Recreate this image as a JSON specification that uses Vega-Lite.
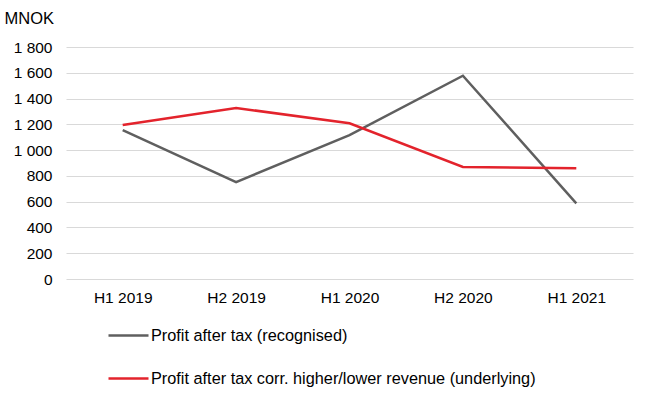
{
  "$schema": "https://vega.github.io/schema/vega-lite/v6.json",
  "width": 567,
  "height": 232,
  "autosize": "none",
  "padding": {"left": 66, "top": 47, "right": 16, "bottom": 120},
  "background": "white",
  "config": {
    "font": "Liberation Sans",
    "view": {"stroke": null}
  },
  "data": {
    "values": [
      {"period": "H1 2019", "series": "Profit after tax (recognised)", "value": 1155},
      {"period": "H2 2019", "series": "Profit after tax (recognised)", "value": 752},
      {"period": "H1 2020", "series": "Profit after tax (recognised)", "value": 1117},
      {"period": "H2 2020", "series": "Profit after tax (recognised)", "value": 1577},
      {"period": "H1 2021", "series": "Profit after tax (recognised)", "value": 587},
      {"period": "H1 2019", "series": "Profit after tax corr. higher/lower revenue (underlying)", "value": 1195},
      {"period": "H2 2019", "series": "Profit after tax corr. higher/lower revenue (underlying)", "value": 1327},
      {"period": "H1 2020", "series": "Profit after tax corr. higher/lower revenue (underlying)", "value": 1208},
      {"period": "H2 2020", "series": "Profit after tax corr. higher/lower revenue (underlying)", "value": 869},
      {"period": "H1 2021", "series": "Profit after tax corr. higher/lower revenue (underlying)", "value": 860}
    ]
  },
  "mark": {"type": "line", "strokeWidth": 2.5},
  "encoding": {
    "x": {
      "field": "period",
      "type": "ordinal",
      "sort": null,
      "scale": {"type": "point", "padding": 0.5},
      "axis": {
        "title": null,
        "labelAngle": 0,
        "domain": false,
        "ticks": false,
        "grid": false,
        "labelFontSize": 15.5,
        "labelColor": "#000000",
        "labelPadding": 11
      }
    },
    "y": {
      "field": "value",
      "type": "quantitative",
      "scale": {"domain": [0, 1800], "nice": false},
      "axis": {
        "values": [0, 200, 400, 600, 800, 1000, 1200, 1400, 1600, 1800],
        "labelExpr": "replace(format(datum.value, ','), ',', ' ')",
        "domain": false,
        "ticks": false,
        "gridColor": "#d9d9d9",
        "gridWidth": 1,
        "labelFontSize": 15.5,
        "labelColor": "#000000",
        "labelPadding": 14,
        "title": "MNOK",
        "titleAngle": 0,
        "titleFontSize": 16.5,
        "titleFontWeight": "normal",
        "titleColor": "#000000",
        "titleAlign": "left",
        "titleBaseline": "middle",
        "titleX": -62,
        "titleY": -29
      }
    },
    "color": {
      "field": "series",
      "type": "nominal",
      "scale": {
        "domain": ["Profit after tax (recognised)", "Profit after tax corr. higher/lower revenue (underlying)"],
        "range": ["#5f5f5f", "#e3232c"]
      },
      "legend": {
        "title": null,
        "orient": "none",
        "legendX": 41,
        "legendY": 267,
        "direction": "vertical",
        "symbolType": "stroke",
        "symbolSize": 1600,
        "symbolStrokeWidth": 2.5,
        "labelFontSize": 16.3,
        "labelColor": "#000000",
        "labelOffset": 1,
        "labelLimit": 600,
        "rowPadding": 13
      }
    }
  }
}
